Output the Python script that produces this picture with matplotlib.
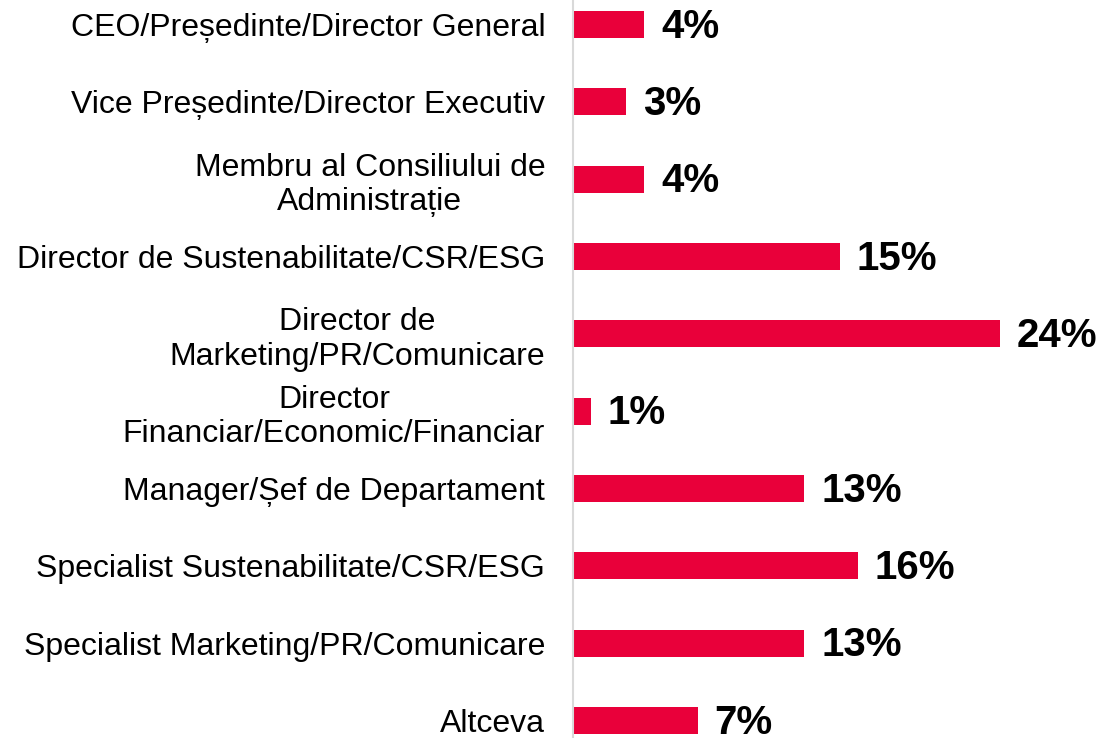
import matplotlib.pyplot as plt

# ============ DATA ============
roles = [
    "CEO/Președinte/Director General",
    "Vice Președinte/Director Executiv",
    "Membru al Consiliului de\nAdministrație",
    "Director de Sustenabilitate/CSR/ESG",
    "Director de\nMarketing/PR/Comunicare",
    "Director\nFinanciar/Economic/Financiar",
    "Manager/Șef de Departament",
    "Specialist Sustenabilitate/CSR/ESG",
    "Specialist Marketing/PR/Comunicare",
    "Altceva",
]
shares = [4, 3, 4, 15, 24, 1, 13, 16, 13, 7]

# ============ PLOT ============
plt.rcParams['font.family'] = ['Liberation Sans', 'DejaVu Sans']

fig = plt.figure(figsize=(10.99, 7.38), dpi=100)
ax = fig.add_axes([0.5214, 0.0, 0.4786, 1.0])

pos = list(range(len(roles)))
ax.barh(pos, shares, height=0.35, color='#E9003A')

for y, v in zip(pos, shares):
    ax.text(v + 0.95, y + 0.03, f"{v}%", va='center', ha='left',
            fontsize=29, fontweight='bold', color='black')

ax.set_xlim(0, 29.55)
ax.set_ylim(9.227, -0.317)
ax.set_yticks(pos)
ax.set_yticklabels(roles, fontsize=23, multialignment='center')
ax.tick_params(axis='y', length=0, pad=20)
ax.set_xticks([])

for side in ['top', 'right', 'bottom']:
    ax.spines[side].set_visible(False)
ax.spines['left'].set_color('#d9d9d9')
ax.spines['left'].set_linewidth(1.5)

plt.savefig('out.png', dpi=100)
